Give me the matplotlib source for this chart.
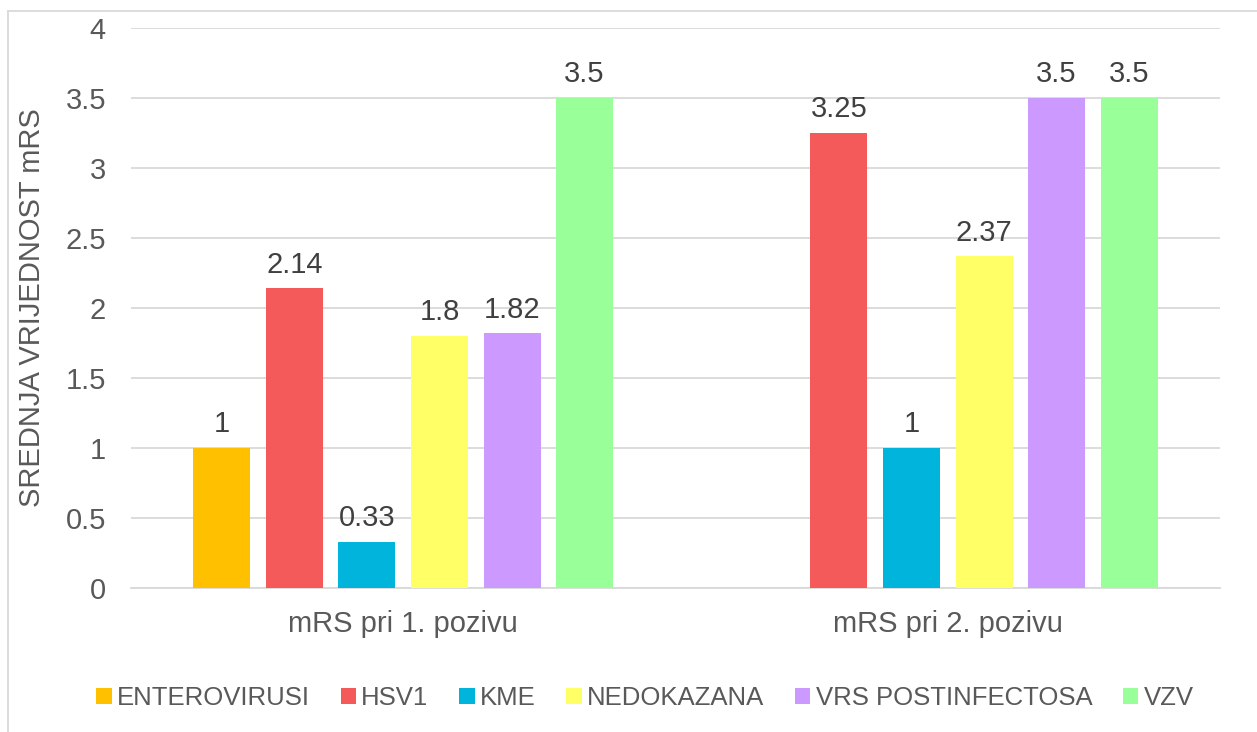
import matplotlib.pyplot as plt
import numpy as np

plt.rcParams['font.family'] = ['Liberation Sans', 'DejaVu Sans']

groups = ['mRS pri 1. pozivu', 'mRS pri 2. pozivu']
series = ['ENTEROVIRUSI', 'HSV1', 'KME', 'NEDOKAZANA', 'VRS POSTINFECTOSA', 'VZV']
values = {
    'ENTEROVIRUSI': [1, np.nan],
    'HSV1': [2.14, 3.25],
    'KME': [0.33, 1],
    'NEDOKAZANA': [1.8, 2.37],
    'VRS POSTINFECTOSA': [1.82, 3.5],
    'VZV': [3.5, 3.5],
}
labels = {
    'ENTEROVIRUSI': ['1', ''],
    'HSV1': ['2.14', '3.25'],
    'KME': ['0.33', '1'],
    'NEDOKAZANA': ['1.8', '2.37'],
    'VRS POSTINFECTOSA': ['1.82', '3.5'],
    'VZV': ['3.5', '3.5'],
}
colors = ['#FFC000', '#F55A5A', '#00B4DC', '#FFFF66', '#CC99FF', '#99FF99']

fig = plt.figure(figsize=(12.57, 7.32), dpi=100)
ax = fig.add_axes([0.1042, 0.1967, 0.8664, 0.765])

x = np.arange(len(groups))
step = 0.1332
width = 0.1047
for i, name in enumerate(series):
    pos = x + (i - 2.5) * step
    bars = ax.bar(pos, values[name], width, color=colors[i], label=name, zorder=3)
    ax.bar_label(bars, labels=labels[name], padding=7, fontsize=21, color='#404040')

ax.set_xlim(-0.5, 1.5)
ax.set_ylim(0, 4)
ax.set_yticks(np.arange(0, 4.01, 0.5))
ax.set_yticklabels(['0', '0.5', '1', '1.5', '2', '2.5', '3', '3.5', '4'])
ax.set_xticks(x)
ax.set_xticklabels(groups)
ax.grid(axis='y', color='#D9D9D9', linewidth=1.3, zorder=0)
for s in ['top', 'right', 'left']:
    ax.spines[s].set_visible(False)
ax.spines['bottom'].set_color('#D9D9D9')
ax.spines['bottom'].set_linewidth(1.3)
ax.tick_params(axis='y', length=0, pad=18, labelsize=21, labelcolor='#595959')
ax.tick_params(axis='x', length=0, pad=16, labelsize=21, labelcolor='#595959')
ax.set_ylabel('SREDNJA VRIJEDNOST mRS', fontsize=21, color='#595959')
ax.yaxis.set_label_coords(-0.078, 0.5)

fig.legend(loc='center', bbox_to_anchor=(0.513, 0.046), ncol=6, frameon=False,
           fontsize=18.5, labelcolor='#595959', handlelength=0.6, handleheight=0.6,
           handletextpad=0.2, columnspacing=1.2)

# light outer frame
fig.add_artist(plt.Line2D([0.0064, 0.0064], [0.0, 0.985], color='#D9D9D9', lw=1.3))
fig.add_artist(plt.Line2D([0.0064, 1.0], [0.985, 0.985], color='#D9D9D9', lw=1.3))

fig.savefig('out.png', dpi=100)
